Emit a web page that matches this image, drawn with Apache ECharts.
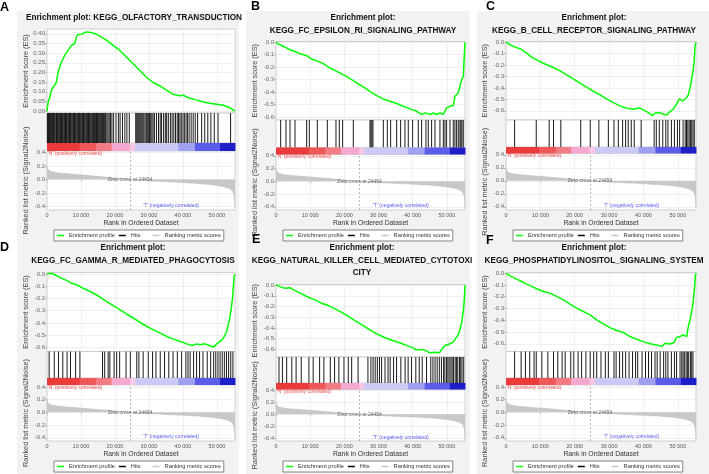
<!DOCTYPE html>
<html><head><meta charset="utf-8">
<script src="https://cdn.jsdelivr.net/npm/echarts@6/dist/echarts.min.js"></script>
<style>html,body{margin:0;padding:0;background:#fff}#c{width:709px;height:474px}</style>
</head><body><div id="c"></div>
<script>
// ---------------- data ----------------
const rankMax = 55300;
const xTickValues = [0, 10000, 20000, 30000, 40000, 50000];
const zeroCross = 24454;
const esTicksA = [0.00, 0.05, 0.10, 0.15, 0.20, 0.25, 0.30, 0.35, 0.40];
const esTicksNeg = [0.0, -0.1, -0.2, -0.3, -0.4, -0.5, -0.6];
const rankedTicks = [0.4, 0.2, 0.0, -0.2, -0.4];

const panelLetters = ['A', 'B', 'C', 'D', 'E', 'F'];
const panelTitles = [
  'Enrichment plot: KEGG_OLFACTORY_TRANSDUCTION',
  'Enrichment plot:\nKEGG_FC_EPSILON_RI_SIGNALING_PATHWAY',
  'Enrichment plot:\nKEGG_B_CELL_RECEPTOR_SIGNALING_PATHWAY',
  'Enrichment plot:\nKEGG_FC_GAMMA_R_MEDIATED_PHAGOCYTOSIS',
  'Enrichment plot:\nKEGG_NATURAL_KILLER_CELL_MEDIATED_CYTOTOXI\nCITY',
  'Enrichment plot:\nKEGG_PHOSPHATIDYLINOSITOL_SIGNALING_SYSTEM'
];
const legendNames = ['Enrichment profile', 'Hits', 'Ranking metric scores'];
const posLabel = "'N' (positively correlated)";
const negLabel = "'T' (negatively correlated)";

// ranked list metric (shared by all panels)
const metricRank  = [0, 300, 1000, 3000, 6000, 10000, 14000, 18000, 21000, 24454, 28000, 32000, 36000, 40000, 44000, 47000, 50000, 52000, 53500, 54400, 54900, 55150, 55300];
const metricValue = [0.20, 0.15, 0.12, 0.10, 0.085, 0.068, 0.05, 0.032, 0.017, 0, -0.015, -0.026, -0.036, -0.046, -0.058, -0.07, -0.088, -0.107, -0.13, -0.16, -0.2, -0.27, -0.42];

// colour bar
const colorStops = [0, 9600, 14500, 19000, 24400, 25900, 38600, 43500, 50900, 55300];
const colorBarColors = ['#ea3a3a', '#ee5858', '#f27c84', '#f5a8d0', '#f8c8e4', '#cacaf4', '#a0a0f0', '#5c5cea', '#1e1ec8'];

// enrichment score curves
const esRankA = [0,300,800,1280,1770,2750,3240,3730,4220,5200,6190,7170,8150,8640,9130,10100,11600,12080,13060,14530,15510,17480,19440,21400,23370,25330,27300,29260,31230,33190,35160,37120,39080,40070,42030,44000,45960,47920,49890,51850,53820,54500,55300];
const esValueA = [0,0.044,0.07,0.108,0.117,0.148,0.2,0.21,0.253,0.288,0.314,0.34,0.35,0.384,0.397,0.398,0.41,0.414,0.407,0.398,0.388,0.367,0.34,0.314,0.28,0.245,0.21,0.175,0.148,0.131,0.108,0.087,0.079,0.082,0.066,0.058,0.047,0.04,0.035,0.03,0.017,0.009,0];
const esRankB = [0,680,1660,2630,4100,5560,7020,8970,10430,11900,13850,15800,17750,19700,21650,23600,25540,27500,29450,31400,33350,35300,37240,39200,41150,42600,43580,44070,45050,46020,47000,47970,48950,49430,49920,50900,51870,52360,53330,54310,54800,55300];
const esValueB = [0,-0.016,-0.027,-0.04,-0.061,-0.075,-0.093,-0.109,-0.136,-0.149,-0.173,-0.208,-0.235,-0.261,-0.293,-0.328,-0.36,-0.395,-0.429,-0.456,-0.475,-0.493,-0.515,-0.536,-0.555,-0.581,-0.568,-0.56,-0.581,-0.568,-0.581,-0.568,-0.581,-0.587,-0.528,-0.515,-0.509,-0.435,-0.408,-0.301,-0.275,0];
const esRankC = [0,1160,2620,4070,6010,7470,8920,10380,12320,13780,15720,17660,19600,21530,23480,25420,27360,29300,31240,33180,35120,37060,38030,39000,39970,41430,42690,43370,44830,45790,46760,47730,48700,49670,50440,51420,52390,53070,53750,54330,54720,55010,55300];
const esValueC = [0,-0.023,-0.044,-0.058,-0.096,-0.131,-0.155,-0.178,-0.204,-0.222,-0.251,-0.286,-0.321,-0.359,-0.394,-0.429,-0.461,-0.496,-0.528,-0.557,-0.577,-0.586,-0.577,-0.577,-0.592,-0.615,-0.641,-0.621,-0.615,-0.63,-0.636,-0.606,-0.586,-0.539,-0.496,-0.513,-0.49,-0.461,-0.373,-0.271,-0.184,-0.038,0];
const esRankD = [0,490,1470,2940,4400,5870,7340,8810,10280,11750,13710,15660,17620,19580,21540,23500,25450,27410,29370,31330,33290,35250,37200,39160,41120,42590,44060,45030,46500,47970,48950,49930,50910,51890,52870,53650,54140,54630,55020,55300];
const esValueD = [0.005,0.014,0.008,-0.014,-0.033,-0.052,-0.074,-0.088,-0.11,-0.129,-0.156,-0.189,-0.225,-0.26,-0.293,-0.329,-0.362,-0.397,-0.43,-0.458,-0.485,-0.512,-0.534,-0.553,-0.573,-0.586,-0.573,-0.581,-0.573,-0.589,-0.6,-0.573,-0.553,-0.526,-0.471,-0.375,-0.293,-0.184,-0.019,0];
const esRankE = [0,1170,2630,4100,5560,7510,9460,11400,13360,15310,17260,19210,21160,23110,25060,27010,28960,30910,32860,34810,36760,38710,40170,41150,42610,43580,45050,46510,47780,48460,49440,50410,51870,52650,53330,53820,54310,54800,55090,55300];
const esValueE = [0,-0.015,-0.031,-0.025,-0.052,-0.083,-0.114,-0.138,-0.169,-0.191,-0.222,-0.255,-0.292,-0.332,-0.369,-0.409,-0.446,-0.477,-0.502,-0.523,-0.545,-0.569,-0.585,-0.606,-0.6,-0.606,-0.631,-0.625,-0.631,-0.6,-0.563,-0.554,-0.532,-0.492,-0.462,-0.415,-0.354,-0.246,-0.138,0];
const esRankF = [0,1160,3100,4560,6010,7470,8920,10860,12800,14740,16690,18630,20570,22510,24450,26390,28330,30270,32210,34150,36090,38030,39970,41910,43850,45300,46270,47730,48890,49670,50640,51610,52580,53070,53550,54330,54820,55110,55300];
const esValueF = [0,-0.023,-0.051,-0.071,-0.093,-0.113,-0.133,-0.156,-0.17,-0.198,-0.227,-0.263,-0.297,-0.326,-0.354,-0.397,-0.431,-0.462,-0.487,-0.504,-0.538,-0.561,-0.581,-0.6,-0.609,-0.623,-0.595,-0.601,-0.589,-0.544,-0.538,-0.524,-0.538,-0.453,-0.397,-0.283,-0.142,-0.028,0];

// hit positions (rank of each gene of the set)
const hitsA = [120,350,520,760,980,1200,1420,1650,1880,2100,2330,2600,2820,3050,3300,3520,3780,4000,4250,4480,4700,4950,5200,5450,5680,5900,6150,6400,6630,6870,7100,7350,7600,7850,8080,8300,8550,8800,9050,9300,9520,9760,10000,10250,10500,10720,10950,11200,11450,11700,11950,12200,12450,12700,12950,13200,13450,13700,14000,14300,14550,14850,15100,15400,15700,16000,16300,16600,16950,17250,17600,17950,18300,18700,19100,19600,20300,21000,21500,22200,22900,23500,24200,26100,26400,26700,27000,27300,27600,27900,28200,28500,28850,29200,29500,29800,30150,30500,30850,31200,31600,32200,32800,33300,33700,34300,34800,35200,35700,36300,36800,37300,37800,38300,38700,39100,39500,40000,40400,40900,41300,41800,42400,43000,43600,44300,45500,46400,47300,48200,49200,50300,54000];
const hitsB = [1365,2925,4095,5560,8970,9750,12090,15015,17550,18525,19500,22620,27500,27790,28080,28370,31400,32565,33540,35300,36465,37730,38700,39975,41630,42610,43875,44560,45530,46510,47970,48950,49430,49920,50900,51870,52360,52845,53330,53820,54110,54400,54800];
const hitsC = [2510,8800,12570,13830,15960,21750,24510,27030,29790,31430,32680,33940,34820,35580,36450,37330,39340,43120,43740,44620,45630,46510,47140,48140,49020,49900,50530,51540,52160,52540,52920,53300,53670,54050,54430,54800];
const hitsD = [630,2140,3390,4650,5910,6910,8420,9680,16340,16970,17980,18480,19740,20490,21370,23250,24510,26400,27030,28280,29790,31050,32050,33310,34570,35820,37080,38340,39600,40850,41480,42110,43120,44000,44880,45880,47140,48140,49020,49650,50280,50910,51540,52170,52790,53420,54050,54680];
const hitsE = [880,1880,3130,4630,5880,7380,9630,10880,12760,14010,15890,17140,18390,19890,21140,22140,24020,26900,27770,28400,29020,29650,30270,30900,31900,32780,33400,34400,35280,36530,37780,38660,39660,40910,41910,42780,44040,45290,45910,46540,47160,47790,48410,49040,49410,49910,50290,50670,51170,51540,51920,52420,52790,53170,53670,54040,54420,54920];
const hitsF = [2510,4400,5660,6910,8170,8800,10430,12190,13830,15080,16340,17220,18850,19730,20990,22000,23250,24510,25520,26400,27650,28910,29790,31430,32050,33060,33940,34820,35820,36830,37710,38340,39600,40600,41480,42360,43370,43990,44870,45880,46510,47140,48140,49020,49650,50660,51160,51540,51910,52420,52790,53170,53670,54050,54430];

// ---------------- layout (pixels) ----------------
const FONT = 'Liberation Sans, Arial, sans-serif';
const panels = [
  {esR: esRankA, esV: esValueA, hits: hitsA, ticks: esTicksA, dec: 2, L: 47,  R: 235, esTop: 29,    esBot: 113,   hitBot: 143,   cbBot: 151,   rkBot: 210, esMin: -0.01,  esMax: 0.425, rkMin: -0.45, rkMax: 0.42, titleX: 134, titleY: 12, letterX: 0, letterY: 1, legendY: 230, bg: [17, 11, 222, 234]},
  {esR: esRankB, esV: esValueB, hits: hitsB, ticks: esTicksNeg, dec: 1, L: 276, R: 465, esTop: 41.5, esBot: 120,   hitBot: 147.5, cbBot: 154.5, rkBot: 210, esMin: -0.625, esMax: 0.005, rkMin: -0.45, rkMax: 0.42, titleX: 363, titleY: 12, letterX: 251, letterY: 0, legendY: 230, bg: [246, 11, 224, 234]},
  {esR: esRankC, esV: esValueC, hits: hitsC, ticks: esTicksNeg, dec: 1, L: 506, R: 696, esTop: 41.5, esBot: 120,   hitBot: 147,   cbBot: 153.5, rkBot: 210, esMin: -0.68,  esMax: 0.005, rkMin: -0.45, rkMax: 0.42, titleX: 594, titleY: 12, letterX: 486, letterY: 0, legendY: 230, bg: [477, 11, 232, 234]},
  {esR: esRankD, esV: esValueD, hits: hitsD, ticks: esTicksNeg, dec: 1, L: 47,  R: 235, esTop: 272.5, esBot: 351.5, hitBot: 378,   cbBot: 385,   rkBot: 441, esMin: -0.636, esMax: 0.015, rkMin: -0.45, rkMax: 0.43, titleX: 133, titleY: 242, letterX: 0, letterY: 241, legendY: 461, bg: [17, 242, 222, 232]},
  {esR: esRankE, esV: esValueE, hits: hitsE, ticks: esTicksNeg, dec: 1, L: 276, R: 465, esTop: 284.5, esBot: 357,   hitBot: 383,   cbBot: 389.5, rkBot: 441, esMin: -0.67,  esMax: 0.005, rkMin: -0.45, rkMax: 0.42, titleX: 362, titleY: 242, letterX: 252, letterY: 233, legendY: 461, bg: [246, 242, 224, 232]},
  {esR: esRankF, esV: esValueF, hits: hitsF, ticks: esTicksNeg, dec: 1, L: 506, R: 696, esTop: 272.5, esBot: 351.5, hitBot: 378,   cbBot: 385,   rkBot: 441, esMin: -0.665, esMax: 0.005, rkMin: -0.45, rkMax: 0.43, titleX: 594, titleY: 242, letterX: 486, letterY: 234, legendY: 461, bg: [477, 242, 232, 232]}
];

const zip = (a, b) => a.map((x, i) => [x, b[i]]);
const fmtRank = v => v === 0 ? '0' : (v / 1000) + ' 000';

const option = {
  animation: false, backgroundColor: '#ffffff',
  textStyle: {fontFamily: FONT},
  grid: [], xAxis: [], yAxis: [], series: [], legend: [], graphic: []
};

const borderCol = '#c4c4c4';
const splitCol = '#e6e6e6';

panels.forEach((p, i) => {
  const g = i * 4;
  const W = p.R - p.L;
  option.graphic.push(
    {type: 'rect', z: -10, silent: true, shape: {x: p.bg[0], y: p.bg[1], width: p.bg[2], height: p.bg[3]}, style: {fill: '#f2f2f2'}},
    {type: 'text', z: 10, x: p.titleX, y: p.titleY, style: {text: panelTitles[i], fill: '#111', font: 'bold 8.2px ' + FONT, align: 'center', verticalAlign: 'top', lineHeight: 12.4}},
    {type: 'text', z: 10, x: p.letterX, y: p.letterY, style: {text: panelLetters[i], fill: '#000', font: 'bold 12.5px ' + FONT, align: 'left', verticalAlign: 'top'}}
  );
  const gridBase = {left: p.L, width: W, outerBoundsMode: 'none', containLabel: false};
  option.grid.push(
    Object.assign({}, gridBase, {top: p.esTop, height: p.esBot - p.esTop, show: true, backgroundColor: '#fff', borderColor: borderCol, borderWidth: 0.8}),
    Object.assign({}, gridBase, {top: p.esBot, height: p.hitBot - p.esBot, show: true, backgroundColor: '#fff', borderColor: borderCol, borderWidth: 0.8}),
    Object.assign({}, gridBase, {top: p.hitBot, height: p.cbBot - p.hitBot, show: false}),
    Object.assign({}, gridBase, {top: p.cbBot, height: p.rkBot - p.cbBot, show: true, backgroundColor: '#fff', borderColor: borderCol, borderWidth: 0.8})
  );
  for (let k = 0; k < 4; k++) {
    const ax = {gridIndex: g + k, type: 'value', min: 0, max: rankMax, interval: 10000,
      axisLine: {show: false}, axisTick: {show: false}, axisLabel: {show: false},
      splitLine: {show: k === 0 || k === 3, lineStyle: {color: splitCol, width: 0.6}}};
    if (k === 3) {
      ax.axisLabel = {show: true, formatter: fmtRank, fontSize: 5.5, color: '#555', margin: 2.5, fontFamily: FONT};
      ax.axisTick = {show: true, length: 2, lineStyle: {color: '#999', width: 0.6}};
      ax.name = 'Rank in Ordered Dataset';
      ax.nameLocation = 'middle';
      ax.nameGap = 9;
      ax.nameTextStyle = {fontSize: 6.8, color: '#333', fontFamily: FONT};
    }
    option.xAxis.push(ax);
  }
  option.yAxis.push(
    {gridIndex: g, type: 'value', min: p.esMin, max: p.esMax,
      axisLine: {show: false},
      axisTick: {show: true, customValues: p.ticks, length: 2, lineStyle: {color: '#999', width: 0.6}},
      axisLabel: {customValues: p.ticks, formatter: v => v.toFixed(p.dec), fontSize: 6, color: '#666', margin: 2, fontFamily: FONT},
      splitLine: {show: true, lineStyle: {color: splitCol, width: 0.6}},
      name: 'Enrichment score (ES)', nameLocation: 'middle', nameGap: 18,
      nameTextStyle: {fontSize: 7.3, color: '#444', fontFamily: FONT}},
    {gridIndex: g + 1, type: 'value', min: 0, max: 1, show: false},
    {gridIndex: g + 2, type: 'value', min: 0, max: 1, show: false},
    {gridIndex: g + 3, type: 'value', min: p.rkMin, max: p.rkMax,
      axisLine: {show: false},
      axisTick: {show: true, customValues: rankedTicks, length: 2, lineStyle: {color: '#999', width: 0.6}},
      axisLabel: {customValues: rankedTicks, formatter: v => v.toFixed(1), fontSize: 6, color: '#666', margin: 2, fontFamily: FONT},
      splitLine: {show: true, lineStyle: {color: splitCol, width: 0.6}},
      name: 'Ranked list metric (Signal2Noise)', nameLocation: 'middle', nameGap: 18,
      nameTextStyle: {fontSize: 7.3, color: '#444', fontFamily: FONT}}
  );
  option.series.push(
    {name: 'Enrichment profile', type: 'line', xAxisIndex: g, yAxisIndex: g, data: zip(p.esR, p.esV),
      showSymbol: false, color: '#00ff00', lineStyle: {color: '#00ff00', width: 1.5}, z: 5},
    {name: 'Hits', type: 'custom', xAxisIndex: g + 1, yAxisIndex: g + 1, data: p.hits.map(h => [h, 0.5]),
      itemStyle: {color: '#000'},
      renderItem: (params, api) => {
        const x = api.value(0);
        const a = api.coord([x, 1]), b = api.coord([x, 0]);
        return {type: 'line', shape: {x1: a[0], y1: a[1], x2: b[0], y2: b[1]}, style: {stroke: '#000', lineWidth: 0.9}};
      }},
    {name: 'colorbar', type: 'custom', xAxisIndex: g + 2, yAxisIndex: g + 2,
      data: colorBarColors.map((c, j) => [colorStops[j], colorStops[j + 1], j]),
      encode: {x: [0, 1]},
      renderItem: (params, api) => {
        const a = api.coord([api.value(0), 1]), b = api.coord([api.value(1), 0]);
        return {type: 'rect', shape: {x: a[0], y: a[1], width: b[0] - a[0] + 0.5, height: b[1] - a[1]}, style: {fill: colorBarColors[api.value(2)]}};
      }},
    {name: 'Ranking metric scores', type: 'line', xAxisIndex: g + 3, yAxisIndex: g + 3, data: zip(metricRank, metricValue),
      showSymbol: false, smooth: 0.3, smoothMonotone: 'x', color: '#c8c8c8',
      lineStyle: {color: '#bcbcbc', width: 0.5}, areaStyle: {color: '#c8c8c8', opacity: 1},
      markLine: {silent: true, symbol: 'none', label: {show: false},
        lineStyle: {color: '#999', type: [2, 2], width: 0.7}, data: [{xAxis: zeroCross}]}},
    {name: 'rankText', type: 'scatter', xAxisIndex: g + 3, yAxisIndex: g + 3, symbolSize: 0, silent: true, z: 6,
      data: [
        {value: [250, p.rkMax - 0.035], label: {formatter: posLabel, position: 'right', distance: 0, color: '#ee2222'}},
        {value: [36500, -0.385], label: {formatter: negLabel, position: 'inside', color: '#3333ee'}},
        {value: [zeroCross, 0], label: {formatter: 'Zero cross at ' + zeroCross, position: 'inside', color: '#444'}}
      ],
      label: {show: true, fontSize: 5, fontFamily: FONT}}
  );
  option.legend.push({
    data: legendNames.map(n => ({name: n})), left: p.L + 7, top: p.legendY,
    orient: 'horizontal', icon: 'rect', itemWidth: 7, itemHeight: 1.5, itemGap: 4,
    padding: [2.5, 3], borderColor: '#666', borderWidth: 0.8, backgroundColor: '#fff',
    selectedMode: false, formatter: n => n === 'Hits' ? 'Hits     ' : n,
    textStyle: {fontSize: 5.7, color: '#333', fontFamily: FONT}
  });
});

const chart = echarts.init(document.getElementById('c'), null, {renderer: 'canvas'});
chart.setOption(option);
</script>
</body></html>
